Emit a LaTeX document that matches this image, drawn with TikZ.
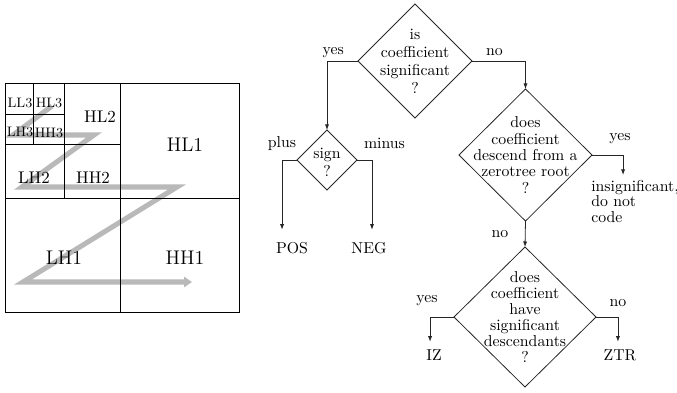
\documentclass[tikz,border=0pt]{standalone}
\usepackage{tikz}
\usetikzlibrary{shapes.geometric,arrows.meta}
\tikzset{
  quest/.style={diamond, draw=black!85, line width=0.5pt, inner sep=0pt, outer sep=0pt},
  qtext/.style={align=center, inner sep=0pt},
  leaf/.style={inner sep=0pt},
  flow/.style={draw=black!85, line width=0.5pt, -{Latex[length=3.5pt,width=2.6pt]}},
  lbl/.style={inner sep=0pt},
  band/.style={font=\fontsize{10.7}{12}\selectfont},
  sband/.style={font=\fontsize{8.7}{10}\selectfont},
  bband/.style={font=\fontsize{12.5}{15}\selectfont}
}

\begin{document}
\begin{tikzpicture}[x=0.633pt,y=-0.633pt]
			\useasboundingbox (0,0) rectangle (677,392);
			% scan order
			\draw[line width=3.2pt, gray!55, -{Triangle[length=5pt,width=6.5pt]}] (52,106) -- (13,135) -- (94,135) -- (22,187) -- (177,187) -- (23,282) -- (192,282);
			% subbands
			\draw[line width=0.6pt] (5,83) rectangle (239,312);
			\draw[line width=0.6pt] (120,83) -- (120,312) (5,198) -- (239,198);
			\draw[line width=0.6pt] (64,83) -- (64,198) (5,144) -- (120,144);
			\draw[line width=0.6pt] (33,83) -- (33,144) (5,114) -- (64,114);
			\node[sband] (ll3) at (20,103) {LL3};
			\node[sband] (hl3) at (49,103) {HL3};
			\node[sband] (lh3) at (20,132) {LH3};
			\node[sband] (hh3) at (49,133) {HH3};
			\node[band] (hl2) at (100,117) {HL2};
			\node[band] (lh2) at (34,178) {LH2};
			\node[band] (hh2) at (93,178) {HH2};
			\node[bband] (hl1) at (185,145) {HL1};
			\node[bband] (lh1) at (64,258) {LH1};
			\node[bband] (hh1) at (185,258) {HH1};
			% decisions
			\node[quest, minimum width=72.2pt, minimum height=72.2pt] (sig) at (415,61) {};
			\node[qtext, font=\fontsize{10}{11.4}\selectfont] (sigq) at (sig) {is\\coefficient\\significant\\?};
			\node[quest, minimum width=38pt, minimum height=38pt] (sgn) at (327,160) {};
			\node[qtext, font=\fontsize{10}{11.4}\selectfont] (sgnq) at ([yshift=-1.5pt]sgn.center) {sign\\?};
			\node[quest, minimum width=84.2pt, minimum height=83.6pt] (zt) at (525.5,155) {};
			\node[qtext, font=\fontsize{10}{10.4}\selectfont] (ztq) at (zt) {does\\coefficient\\descend from a\\zerotree root\\?};
			\node[quest, minimum width=89.9pt, minimum height=88.6pt] (desc) at (525,317) {};
			\node[qtext, font=\fontsize{10}{10.2}\selectfont] (descq) at (desc) {does\\coefficient\\have\\significant\\descendants\\?};
			% outcomes
			\node[leaf, minimum height=22.8pt] (pos) at (292,248) {POS};
			\node[leaf, minimum height=22.8pt] (neg) at (369,248) {NEG};
			\node[leaf, minimum height=16.4pt] (iz) at (434,355) {IZ};
			\node[leaf, minimum height=16.4pt] (ztr) at (620,355) {ZTR};
			\node[leaf, align=left, anchor=north west, font=\fontsize{10}{9.8}\selectfont] (insig) at (591,180) {insignificant,\\do not\\code};
			% branches
			\draw[flow] (sig.west) -| node[lbl, above=1.6pt, pos=0.4] (yes1) {yes} (sgn.north);
			\draw[flow] (sig.east) -| node[lbl, above=2.9pt, pos=0.21] (no1) {no} (zt.north);
			\draw[flow] (sgn.west) -| node[lbl, above=6pt, pos=0.5] (plus) {plus} ([xshift=-6.3pt]pos.north);
			\draw[flow] (sgn.east) -| node[lbl, above=6.7pt, pos=0.5, xshift=7.9pt] (minus) {minus} ([xshift=1.9pt]neg.north);
			\draw[flow] (zt.east) -| node[lbl, above=6.7pt, pos=0.45] (yes2) {yes} ([xshift=20.3pt,yshift=3.2pt]insig.north west);
			\draw[flow] (zt.south) -- node[lbl, left=10.5pt] (no2) {no} (desc.north);
			\draw[flow] (desc.west) -| node[lbl, above=6.7pt, pos=0.5, xshift=-1.9pt] (yes3) {yes} ([xshift=-2.5pt]iz.north);
			\draw[flow] (desc.east) -| node[lbl, above=6pt, pos=0.5] (no3) {no} ([xshift=-1.3pt]ztr.north);
		\end{tikzpicture}
\end{document}
